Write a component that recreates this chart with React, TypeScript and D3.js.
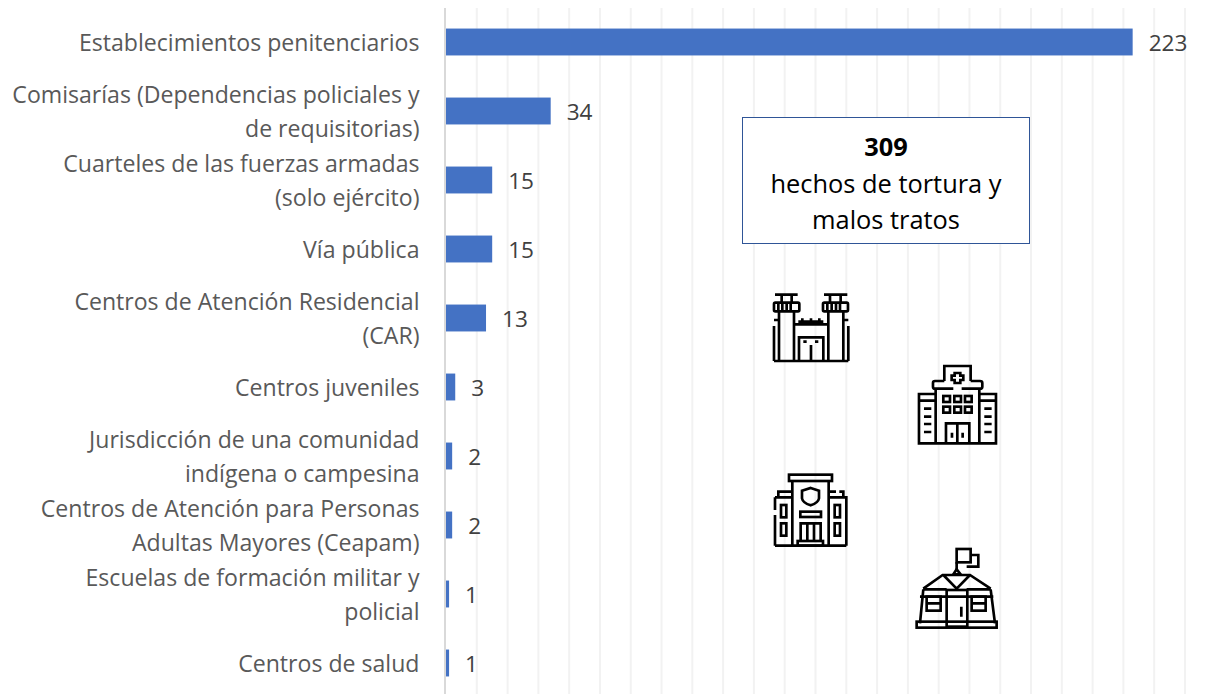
import * as d3 from "d3";

const categories = [
  "Establecimientos penitenciarios",
  "Comisarías (Dependencias policiales y|de requisitorias)",
  "Cuarteles de las fuerzas armadas|(solo ejército)",
  "Vía pública",
  "Centros de Atención Residencial|(CAR)",
  "Centros juveniles",
  "Jurisdicción de una comunidad|indígena o campesina",
  "Centros de Atención para Personas|Adultas Mayores (Ceapam)",
  "Escuelas de formación militar y|policial",
  "Centros de salud",
];
const values = [223, 34, 15, 15, 13, 3, 2, 2, 1, 1];
const gridTicks = d3.range(0, 250, 10);
const boxLines = ["309", "hechos de tortura y", "malos tratos"];

const font = "'Open Sans', sans-serif";

const x = d3.scaleLinear().domain([0, 240]).range([446, 1185]);
const y = d3
  .scaleBand<string>()
  .domain(categories)
  .range([7.5, 697.5])
  .paddingInner(0.61)
  .paddingOuter(0.305);

// icons are traced in a 3x grid, shifted to the page by their group transform
const PrisonIcon = () => (
  <g>
    <path d="M75 44H143M222 44H292M95 44V66M125 44V66M240 44V66M272 44V66" />
    <rect x={72} y={68} width={76} height={26} rx={4} />
    <rect x={219} y={68} width={75} height={26} rx={4} />
    <path d="M85 68V94M97 68V94M110 68V94M122 68V94M232 68V94M245 68V94M258 68V94M270 68V94" />
    <path d="M87 94V243M132 94V243M235 94V243M280 94V243" />
    <path d="M72 120H87M72 138V243M280 120H295M295 138V243M72 243H295" />
    <path d="M132 133H235M145 125H220M157 115V133M183 115V133M208 115V133" />
    <path d="M147 243V172H220V243M183 195V243M160 185H170M195 185H205" />
  </g>
);

const HospitalIcon = () => (
  <g>
    <path d="M583 303V258H662V303" />
    <path d="M614 279H631V287H640V300H631V309H614V300H605V287H614Z" />
    <path d="M583 303H555Q549 303 549 309V320Q549 326 555 326H610M635 326H690Q697 326 697 320V309Q697 303 690 303H662" />
    <path d="M557 326V490M688 326V490" />
    <path d="M557 342H507V490H738V342H688M507 362H557M688 362H738" />
    <path d="M522 386H544M522 410H544M522 432H544M522 456H544M703 386H725M703 410H725M703 432H725M703 456H725" />
    <rect x={580} y={348} width={20} height={18} />
    <rect x={613} y={348} width={20} height={18} />
    <rect x={645} y={348} width={20} height={18} />
    <rect x={580} y={380} width={20} height={18} />
    <rect x={613} y={380} width={20} height={18} />
    <rect x={645} y={380} width={20} height={18} />
    <path d="M588 490V430H658V490M622 430V490M606 458V473M638 458V473" />
  </g>
);

const PoliceIcon = () => (
  <g>
    <rect x={117} y={44} width={129} height={19} />
    <path d="M127 63V257M236 63V257" />
    <path d="M127 95H85V112M75 112H127M75 112V150M75 165V257M236 95H258M268 95H280V112M236 112H289V257M75 257H289" />
    <path d="M182 84L207 92V115Q205 128 182 136Q158 128 156 115V92Z" />
    <rect x={151} y={155} width={62} height={16} />
    <path d="M152 243V190H212V243M172 190V243M192 190V243" />
    <rect x={143} y={243} width={76} height={14} />
    <rect x={93} y={135} width={16} height={37} />
    <rect x={93} y={190} width={16} height={37} />
    <rect x={254} y={135} width={16} height={37} />
    <rect x={254} y={190} width={16} height={37} />
  </g>
);

const SchoolIcon = () => (
  <g>
    <rect x={620} y={267} width={42} height={40} />
    <path d="M662 285H685V320H650M620 307V330" />
    <path d="M620 328L610 343H632Z" />
    <path d="M520 386L578 345H660L722 386M580 345L620 386L660 345" />
    <path d="M510 410H730M520 388H590M650 388H722M520 388L510 490M722 388L735 490" />
    <rect x={590} y={390} width={62} height={110} />
    <rect x={530} y={410} width={42} height={42} />
    <rect x={665} y={410} width={42} height={42} />
    <path d="M530 430H572M665 430H707M634 440V470" />
    <rect x={500} y={485} width={240} height={18} />
  </g>
);

const App = () => {
  return (
    <svg
      width={1211}
      height={694}
      style={{ position: "absolute", left: 0, top: 0, background: "#fff" }}
      fontFamily={font}
    >
      {gridTicks.slice(1).map((t) => (
        <line key={t} x1={x(t)} x2={x(t)} y1={8} y2={694} stroke="#f2f2f2" strokeWidth={2} />
      ))}
      <line x1={x(0) - 1} x2={x(0) - 1} y1={8} y2={694} stroke="#d9d9d9" strokeWidth={2} />

      {categories.map((c, i) => {
        const lines = c.split("|");
        const mid = y(c)! + y.bandwidth() / 2;
        return (
          <g key={c}>
            <rect
              x={x(0)}
              y={y(c)}
              width={x(values[i]) - x(0)}
              height={y.bandwidth()}
              fill="#4472c4"
            />
            <text
              x={x(values[i]) + 16}
              y={mid + 1}
              dy="0.36em"
              fontSize={22.6}
              fill="#404040"
            >
              {values[i]}
            </text>
            {lines.map((l, j) => (
              <text
                key={l}
                x={419.5}
                y={mid + 0.5 + (j - (lines.length - 1) / 2) * 34}
                dy="0.36em"
                textAnchor="end"
                fontSize={23.1}
                fill="#595959"
              >
                {l}
              </text>
            ))}
          </g>
        );
      })}

      <rect x={742.5} y={117.5} width={287} height={126} fill="#fff" stroke="#2f5597" strokeWidth={1} />
      {boxLines.map((l, i) => (
        <text
          key={l}
          x={886}
          y={147 + i * 36.5}
          dy="0.36em"
          textAnchor="middle"
          fontSize={25.4}
          fontWeight={i === 0 ? 700 : 400}
          fill="#000"
        >
          {l}
        </text>
      ))}

      <g fill="none" stroke="#000" strokeWidth={8} transform="translate(750,280) scale(0.3333)">
        <PrisonIcon />
        <HospitalIcon />
      </g>
      <g fill="none" stroke="#000" strokeWidth={8} transform="translate(750,460) scale(0.3333)">
        <PoliceIcon />
        <SchoolIcon />
      </g>
    </svg>
  );
};

export default App;
